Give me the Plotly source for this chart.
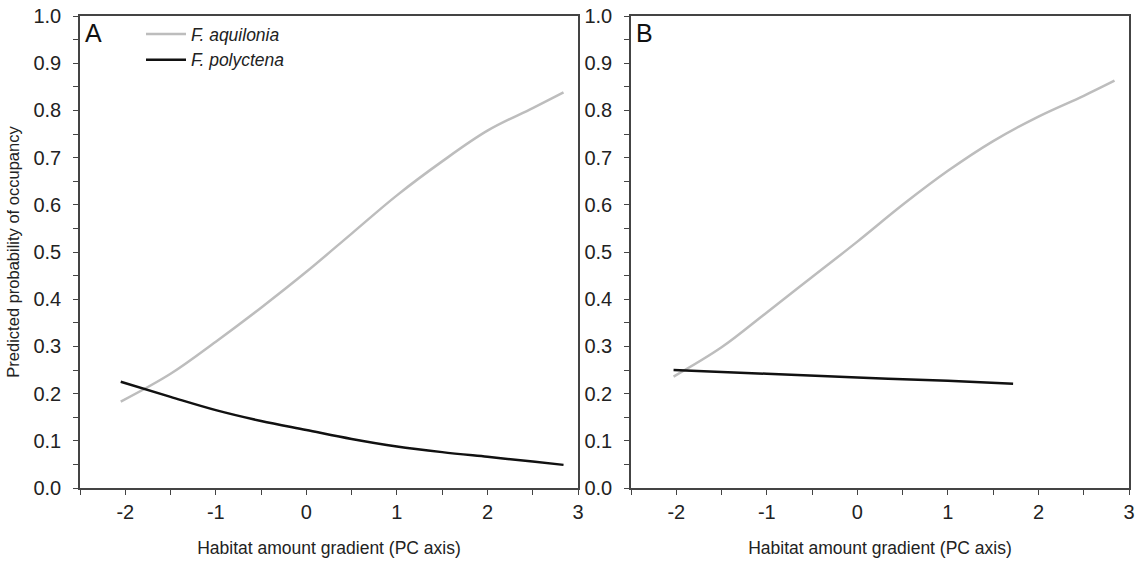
import plotly.graph_objects as go

# ---- data ----
x_aq_A = [-2.05, -1.5, -1.0, -0.5, 0.0, 0.5, 1.0, 1.5, 2.0, 2.5, 2.84]
y_aq_A = [0.183, 0.242, 0.310, 0.382, 0.458, 0.539, 0.620, 0.692, 0.757, 0.805, 0.838]
x_po_A = [-2.05, -1.5, -1.0, -0.5, 0.0, 0.5, 1.0, 1.5, 2.0, 2.5, 2.84]
y_po_A = [0.225, 0.193, 0.165, 0.142, 0.123, 0.104, 0.088, 0.076, 0.066, 0.056, 0.049]
x_aq_B = [-2.03, -1.5, -1.0, -0.5, 0.0, 0.5, 1.0, 1.5, 2.0, 2.5, 2.84]
y_aq_B = [0.236, 0.298, 0.372, 0.447, 0.522, 0.600, 0.672, 0.735, 0.787, 0.831, 0.863]
x_po_B = [-2.03, -1.0, 0.0, 1.0, 1.72]
y_po_B = [0.250, 0.242, 0.234, 0.227, 0.221]

names = ["<i>F. aquilonia</i>", "<i>F. polyctena</i>"]
colors = ["#bdbdbd", "#111111"]
xticks = [-2, -1, 0, 1, 2, 3]
yticks = [0.0, 0.1, 0.2, 0.3, 0.4, 0.5, 0.6, 0.7, 0.8, 0.9, 1.0]
panel_labels = ["A", "B"]
x_title = "Habitat amount gradient (PC axis)"
y_title = "Predicted probability of occupancy"

FONT = "Liberation Sans, Arial, sans-serif"
AX = "#444444"
TXT = "#222222"

fig = go.Figure()
fig.add_trace(go.Scatter(x=x_aq_A, y=y_aq_A, mode="lines", name=names[0],
                         line=dict(color=colors[0], width=2.5, shape="spline", smoothing=1.0),
                         xaxis="x", yaxis="y"))
fig.add_trace(go.Scatter(x=x_po_A, y=y_po_A, mode="lines", name=names[1],
                         line=dict(color=colors[1], width=2.5, shape="spline", smoothing=1.0),
                         xaxis="x", yaxis="y"))
fig.add_trace(go.Scatter(x=x_aq_B, y=y_aq_B, mode="lines", name=names[0], showlegend=False,
                         line=dict(color=colors[0], width=2.5, shape="spline", smoothing=1.0),
                         xaxis="x2", yaxis="y2"))
fig.add_trace(go.Scatter(x=x_po_B, y=y_po_B, mode="lines", name=names[1], showlegend=False,
                         line=dict(color=colors[1], width=2.5, shape="spline", smoothing=1.0),
                         xaxis="x2", yaxis="y2"))

W, H = 1138, 562
PW = W
ydom = [1 - 488 / H, 1 - 16 / H]
xdom1 = [80 / PW, 578 / PW]
xdom2 = [631 / PW, 1129 / PW]

def xax(dom, anchor):
    return dict(domain=dom, anchor=anchor, range=[-2.5, 3], tickvals=xticks,
                ticktext=[str(v) for v in xticks],
                showline=True, linecolor=AX, linewidth=1.5, mirror=True,
                ticks="outside", ticklen=5, tickwidth=1, tickcolor=AX,
                minor=dict(ticks="outside", dtick=0.5, tick0=0, ticklen=5, tickcolor=AX, tickwidth=1),
                showgrid=False, zeroline=False, automargin=False,
                ticklabeloverflow="allow",
                tickfont=dict(family=FONT, size=20, color=TXT),
                title=dict(text=x_title, font=dict(family=FONT, size=17.5, color=TXT), standoff=20))

def yax(dom, anchor, title):
    d = dict(domain=dom, anchor=anchor, range=[0, 1], tickvals=yticks,
             ticktext=[f"{v:.1f}" for v in yticks],
             showline=True, linecolor=AX, linewidth=1.5, mirror=True,
             ticks="outside", ticklen=5, tickwidth=1, tickcolor=AX,
             minor=dict(ticks="outside", dtick=0.05, tick0=0, ticklen=5, tickcolor=AX, tickwidth=1),
             showgrid=False, zeroline=False, automargin=False,
             ticklabelstandoff=8,
             tickfont=dict(family=FONT, size=20, color=TXT))
    if title:
        d["title"] = dict(text=title, font=dict(family=FONT, size=16.5, color=TXT), standoff=10)
    return d

fig.update_layout(
    width=W, height=H,
    margin=dict(l=0, r=0, t=0, b=0),
    paper_bgcolor="white", plot_bgcolor="white",
    xaxis=xax(xdom1, "y"),
    yaxis=yax(ydom, "x", y_title),
    xaxis2=xax(xdom2, "y2"),
    yaxis2=yax(ydom, "x2", None),
    showlegend=True,
    legend=dict(x=141 / PW, y=1 - 16 / H, xanchor="left", yanchor="top",
                bgcolor="rgba(0,0,0,0)", font=dict(family=FONT, size=17.5, color=TXT),
                itemwidth=40, tracegroupgap=0),
    annotations=[
        dict(text=panel_labels[0], xref="x domain", yref="y domain", x=0.006, y=0.997,
             xanchor="left", yanchor="top", showarrow=False,
             font=dict(family=FONT, size=25, color="#111")),
        dict(text=panel_labels[1], xref="x2 domain", yref="y2 domain", x=0.006, y=0.997,
             xanchor="left", yanchor="top", showarrow=False,
             font=dict(family=FONT, size=25, color="#111")),
    ],
)

fig.write_html("out.html", config={"displayModeBar": False},
               post_script="document.body.style.margin='0px';")
